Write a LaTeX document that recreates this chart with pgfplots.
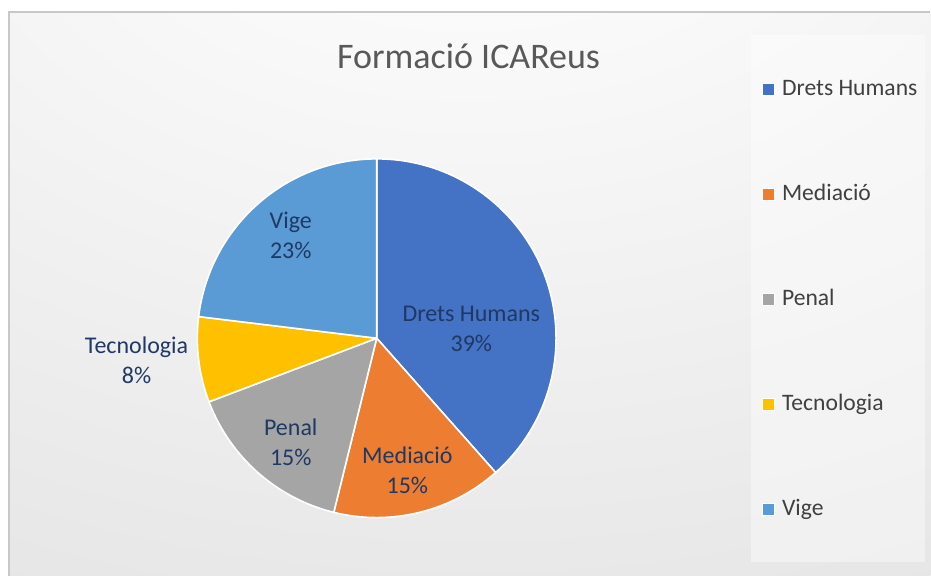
\documentclass[border=0pt]{standalone}
\usepackage{fontspec}
\setmainfont{Carlito}
\usepackage{pgfplots}
\usepackage{pgfplotstable}
\pgfplotsset{compat=1.18}

\definecolor{sliceA}{HTML}{4472C4}
\definecolor{sliceB}{HTML}{ED7D31}
\definecolor{sliceC}{HTML}{A5A5A5}
\definecolor{sliceD}{HTML}{FFC000}
\definecolor{sliceE}{HTML}{5B9BD5}
\definecolor{lblcol}{HTML}{203864}
\definecolor{legcol}{HTML}{404040}
\definecolor{titlecol}{HTML}{595959}
\definecolor{bdr}{HTML}{C8C8C8}
\definecolor{bgA}{HTML}{F9F9F9}
\definecolor{bgB}{HTML}{E6E6E6}
\definecolor{bgC}{HTML}{D8D8D8}
\definecolor{bgD}{HTML}{D2D2D2}

\pgfdeclareradialshading{chartbg}{\pgfpoint{0bp}{45bp}}{%
  color(0bp)=(white); color(18bp)=(bgA); color(58bp)=(bgB);
  color(100bp)=(bgC); color(140bp)=(bgD)}

% name, value (count), shown percentage, label position (px from left, px from bottom), colour
\pgfplotstableread[col sep=comma]{
label,value,pct,lx,ly,col
Drets Humans,5,39,471.7,247,sliceA
Mediació,2,15,407.7,105.5,sliceB
Penal,2,15,291,133,sliceC
Tecnologia,1,8,136.7,215,sliceD
Vige,3,23,291,340.5,sliceE
}\piedata

\begin{document}
\begin{tikzpicture}
\begin{axis}[
  x=1bp, y=1bp,
  xmin=0, xmax=931, ymin=0, ymax=576,
  hide axis, clip=false,
  scale only axis,
]
% page and chart area
\fill[white] (axis cs:0,0) rectangle (axis cs:931,576);
\shade[shading=chartbg] (axis cs:9,0) rectangle (axis cs:931,564);
\draw[bdr, line width=1.5bp] (axis cs:9,0) -- (axis cs:9,564) -- (axis cs:931,564);
% legend box
\fill[white, opacity=0.4] (axis cs:752,14) rectangle (axis cs:926,541);

% title
\node[anchor=base, text=titlecol, inner sep=0pt, font=\fontsize{36bp}{43bp}\selectfont]
  at (axis cs:469,507) {Formació ICAReus};

% total
\pgfplotstablegetrowsof{\piedata}
\pgfmathtruncatemacro{\nrows}{\pgfplotsretval-1}
\gdef\total{0}
\foreach \i in {0,...,\nrows}{
  \pgfplotstablegetelem{\i}{value}\of\piedata
  \pgfmathsetmacro{\newtot}{\total+\pgfplotsretval}
  \global\let\total\newtot
}
% slices
\gdef\cum{0}
\foreach \i in {0,...,\nrows}{
  \pgfplotstablegetelem{\i}{value}\of\piedata \let\val\pgfplotsretval
  \pgfplotstablegetelem{\i}{col}\of\piedata \let\col\pgfplotsretval
  \pgfmathsetmacro{\sa}{90-360*\cum/\total}
  \pgfmathsetmacro{\ea}{90-360*(\cum+\val)/\total}
  \pgfmathsetmacro{\newcum}{\cum+\val}
  \global\let\cum\newcum
  \edef\temp{\noexpand\fill[fill=\col, draw=white, line width=1.6bp, line join=round]
    (axis cs:377,237.5) -- ++(\sa:179.5bp) arc[start angle=\sa, end angle=\ea, radius=179.5bp] -- cycle;}
  \temp
}
% data labels and legend
\foreach \i in {0,...,\nrows}{
  \pgfplotstablegetelem{\i}{label}\of\piedata \let\lab\pgfplotsretval
  \pgfplotstablegetelem{\i}{pct}\of\piedata \let\pct\pgfplotsretval
  \pgfplotstablegetelem{\i}{lx}\of\piedata \let\lx\pgfplotsretval
  \pgfplotstablegetelem{\i}{ly}\of\piedata \let\ly\pgfplotsretval
  \pgfplotstablegetelem{\i}{col}\of\piedata \let\col\pgfplotsretval
  \pgfmathsetmacro{\legy}{576-89.5-105*\i}
  \pgfmathsetmacro{\legb}{\legy-6.4}
  \edef\temp{%
    \noexpand\node[align=center, text=lblcol, inner sep=0pt,
      font=\noexpand\fontsize{24bp}{30bp}\noexpand\selectfont]
      at (axis cs:\lx,\ly) {\lab\noexpand\\\pct\noexpand\%};
    \noexpand\fill[fill=\col, draw=white, line width=0.8bp]
      (axis cs:763,\legy-6) rectangle (axis cs:775,\legy+6);
    \noexpand\node[anchor=base west, text=legcol, inner sep=0pt,
      font=\noexpand\fontsize{23.6bp}{28bp}\noexpand\selectfont]
      at (axis cs:782.5,\legb) {\lab};}
  \temp
}
\end{axis}
\end{tikzpicture}
\end{document}
